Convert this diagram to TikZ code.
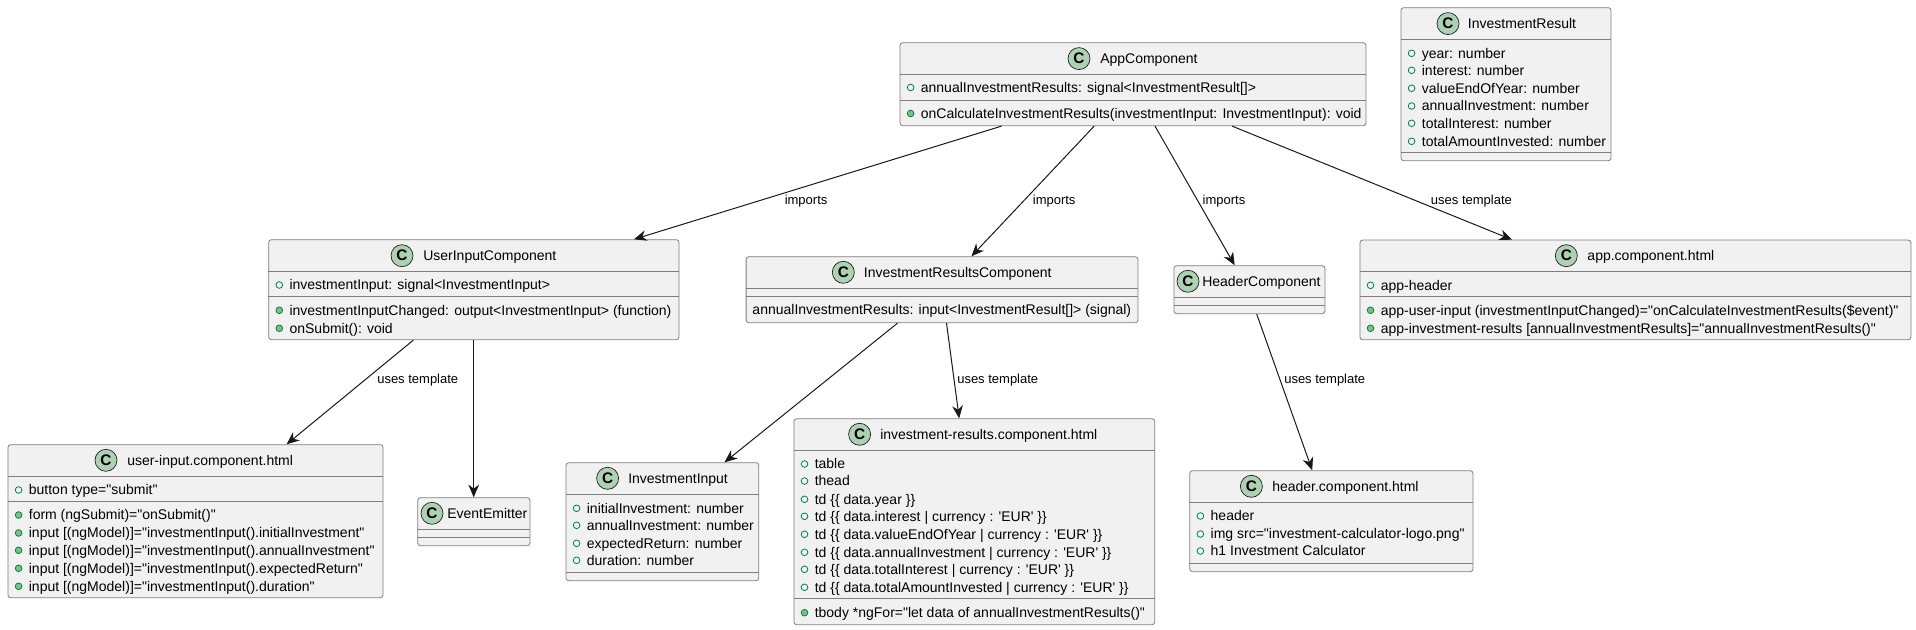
\documentclass[tikz,border=0pt]{standalone}
\usepackage{fontspec}
\newfontfamily\umlfont{Liberation Sans}
\usetikzlibrary{arrows.meta}
\definecolor{boxBack}{HTML}{F1F1F1}
\definecolor{boxLine}{HTML}{7F7F7F}
\definecolor{classGreen}{HTML}{ADD1B2}
\definecolor{memberLine}{HTML}{038048}
\definecolor{memberFill}{HTML}{84BE84}
\definecolor{edgeLine}{HTML}{181818}
% box: name, left, top, width, height, first and second divider
\newcommand{\umlBox}[7]{
  \node[classbox, minimum width=#4*0.75pt, minimum height=#5*0.75pt] (#1) at (#2,#3) {};
  \draw[divider] (#1.west |- 0,#6) -- (#1.east |- 0,#6);
  \draw[divider] (#1.west |- 0,#7) -- (#1.east |- 0,#7);
}
% header: name, circle x, text x, title y, title
\newcommand{\umlHead}[5]{
  \node[classmark] (#1c) at (#2,#4) {C};
  \node[classtext, yshift=-3.9pt] (#1t) at (#3,#4) {#5};
}
% rows: name, box left, y, text
\newcommand{\attrRow}[4]{
  \node[openmark] (#1m) at (#2+11,#3) {};
  \node[classtext, yshift=-3.6pt] (#1) at (#2+21,#3) {#4};
}
\newcommand{\methRow}[4]{
  \node[fillmark] (#1m) at (#2+11,#3) {};
  \node[classtext, yshift=-3.6pt] (#1) at (#2+21,#3) {#4};
}
\begin{document}
\begin{tikzpicture}[x=0.75pt,y=-0.75pt,
    classbox/.style={draw=boxLine, fill=boxBack, line width=0.6pt, rounded corners=2pt, anchor=north west, inner sep=0pt},
    divider/.style={draw=boxLine, line width=0.6pt},
    classmark/.style={circle, draw=edgeLine, fill=classGreen, line width=0.5pt, minimum size=16.5pt, inner sep=0pt, font=\umlfont\fontsize{11.5}{11.5}\selectfont\bfseries},
    classtext/.style={anchor=base west, inner sep=0pt, font=\umlfont\fontsize{10.5}{12}\selectfont},
    openmark/.style={circle, draw=memberLine, fill=boxBack, line width=0.6pt, minimum size=5pt, inner sep=0pt},
    fillmark/.style={circle, draw=memberLine, fill=memberFill, line width=0.6pt, minimum size=5pt, inner sep=0pt},
    edgelabel/.style={anchor=base west, inner sep=0pt, font=\umlfont\fontsize{9.75}{12}\selectfont},
    dep/.style={draw=edgeLine, line width=0.75pt, -{Stealth[length=9.5pt, width=8pt, inset=3pt]}}]
  \useasboundingbox (0,0) rectangle (1916,630);
  % AppComponent
  \umlBox{app}{899.6}{42.3}{465.9}{83}{74.3}{100.3}
  \umlHead{app}{1079}{1100}{58.6}{AppComponent}
  \attrRow{appa}{899.6}{87.5}{annualInvestmentResults: signal<InvestmentResult[]>}
  \methRow{appb}{899.6}{113.5}{onCalculateInvestmentResults(investmentInput: InvestmentInput): void}
  % InvestmentResult
  \umlBox{res}{1400.6}{7.3}{210}{153}{39}{152}
  \umlHead{res}{1448}{1467.7}{23.6}{InvestmentResult}
  \attrRow{resa}{1400.6}{53.3}{year: number}
  \attrRow{resb}{1400.6}{70.3}{interest: number}
  \attrRow{resc}{1400.6}{88.3}{valueEndOfYear: number}
  \attrRow{resd}{1400.6}{106}{annualInvestment: number}
  \attrRow{rese}{1400.6}{123.3}{totalInterest: number}
  \attrRow{resf}{1400.6}{141.3}{totalAmountInvested: number}
  % UserInputComponent
  \umlBox{uic}{268.3}{239.3}{410.3}{100}{271.3}{296.3}
  \umlHead{uic}{402}{423}{255.7}{UserInputComponent}
  \attrRow{uica}{268.3}{285}{investmentInput: signal<InvestmentInput>}
  \methRow{uicb}{268.3}{310.3}{investmentInputChanged: output<InvestmentInput> (function)}
  \methRow{uicc}{268.3}{328.3}{onSubmit(): void}
  % user-input.component.html
  \umlBox{uih}{7.6}{444.3}{375}{153}{476.3}{501.3}
  \umlHead{uih}{106}{127}{460.3}{user-input.component.html}
  \attrRow{uiha}{7.6}{490}{button type="submit"}
  \methRow{uihb}{7.6}{515}{form (ngSubmit)="onSubmit()"}
  \methRow{uihc}{7.6}{533}{input [(ngModel)]="investmentInput().initialInvestment"}
  \methRow{uihd}{7.6}{550.3}{input [(ngModel)]="investmentInput().annualInvestment"}
  \methRow{uihe}{7.6}{568.3}{input [(ngModel)]="investmentInput().expectedReturn"}
  \methRow{uihf}{7.6}{586.3}{input [(ngModel)]="investmentInput().duration"}
  % EventEmitter
  \umlBox{evt}{417.4}{497.3}{112.1}{48}{529.3}{537.3}
  \umlHead{evt}{432}{447}{513.3}{EventEmitter}
  % InvestmentInput
  \umlBox{inp}{565.6}{462.3}{192.8}{118}{494.3}{572.3}
  \umlHead{inp}{607.6}{628}{478.3}{InvestmentInput}
  \attrRow{inpa}{565.6}{508.3}{initialInvestment: number}
  \attrRow{inpb}{565.6}{525.3}{annualInvestment: number}
  \attrRow{inpc}{565.6}{543.3}{expectedReturn: number}
  \attrRow{inpd}{565.6}{560.3}{duration: number}
  % InvestmentResultsComponent
  \umlBox{irc}{745.7}{256.3}{391.9}{66}{288.3}{296.3}
  \umlHead{irc}{843.3}{863.7}{272.3}{InvestmentResultsComponent}
  \node[classtext, yshift=-3.6pt] (irca) at (752.2,310) {annualInvestmentResults: input<InvestmentResult[]> (signal)};
  % investment-results.component.html
  \umlBox{irh}{793.5}{418.3}{360.8}{206}{450.3}{598.3}
  \umlHead{irh}{859.6}{880}{434.3}{investment-results.component.html}
  \attrRow{irha}{793.5}{464}{table}
  \attrRow{irhb}{793.5}{481}{thead}
  \attrRow{irhc}{793.5}{499.3}{td \{\{ data.year \}\}}
  \attrRow{irhd}{793.5}{516.3}{td \{\{ data.interest | currency : 'EUR' \}\}}
  \attrRow{irhe}{793.5}{534.3}{td \{\{ data.valueEndOfYear | currency : 'EUR' \}\}}
  \attrRow{irhf}{793.5}{552.3}{td \{\{ data.annualInvestment | currency : 'EUR' \}\}}
  \attrRow{irhg}{793.5}{569.3}{td \{\{ data.totalInterest | currency : 'EUR' \}\}}
  \attrRow{irhh}{793.5}{587.3}{td \{\{ data.totalAmountInvested | currency : 'EUR' \}\}}
  \methRow{irhi}{793.5}{612.7}{tbody *ngFor="let data of annualInvestmentResults()"}
  % HeaderComponent
  \umlBox{hdr}{1173.5}{265.3}{151}{48}{297.3}{305.3}
  \umlHead{hdr}{1188}{1202}{281.3}{HeaderComponent}
  % header.component.html
  \umlBox{hdh}{1189.4}{470.3}{283.1}{101}{502.3}{563}
  \umlHead{hdh}{1251.4}{1272}{486.3}{header.component.html}
  \attrRow{hdha}{1189.4}{516}{header}
  \attrRow{hdhb}{1189.4}{534}{img src="investment-calculator-logo.png"}
  \attrRow{hdhc}{1189.4}{551}{h1 Investment Calculator}
  % app.component.html
  \umlBox{aph}{1359.5}{239.7}{551}{99.6}{271.3}{296.7}
  \umlHead{aph}{1566.3}{1587.2}{255.7}{app.component.html}
  \attrRow{apha}{1359.5}{285.3}{app-header}
  \methRow{aphb}{1359.5}{310.3}{app-user-input (investmentInputChanged)="onCalculateInvestmentResults(\$event)"}
  \methRow{aphc}{1359.5}{328.3}{app-investment-results [annualInvestmentResults]="annualInvestmentResults()"}
  % connectors
  \draw[dep] (app.south west -| 1001.6,0) -- (uic.north west -| 634,0);
  \draw[dep] (app.south west -| 1094.2,0) -- (irc.north west -| 971.4,0);
  \draw[dep] (app.south west -| 1155,0) -- (hdr.north west -| 1234.7,0);
  \draw[dep] (app.south west -| 1232,0) -- (aph.north west -| 1512,0);
  \draw[dep] (uic.south west -| 413.4,0) -- (uih.north west -| 286.6,0);
  \draw[dep] (uic.south west -| 473.7,0) -- (evt.north west -| 473.7,0);
  \draw[dep] (irc.south west -| 897.6,0) -- (inp.north west -| 724.5,0);
  \draw[dep] (irc.south west -| 946.5,0) -- (irh.north west -| 959.2,0);
  \draw[dep] (hdr.south west -| 1256.7,0) -- (hdh.north west -| 1312.2,0);
  % connector labels
  \node[edgelabel] (lbla) at (784.5,204.7) {imports};
  \node[edgelabel] (lblb) at (1032.6,204.7) {imports};
  \node[edgelabel] (lblc) at (1202.4,204.7) {imports};
  \node[edgelabel] (lbld) at (1430.7,204.7) {uses template};
  \node[edgelabel] (lble) at (377,384) {uses template};
  \node[edgelabel] (lblf) at (957,384) {uses template};
  \node[edgelabel] (lblg) at (1284,384) {uses template};
\end{tikzpicture}
\end{document}
